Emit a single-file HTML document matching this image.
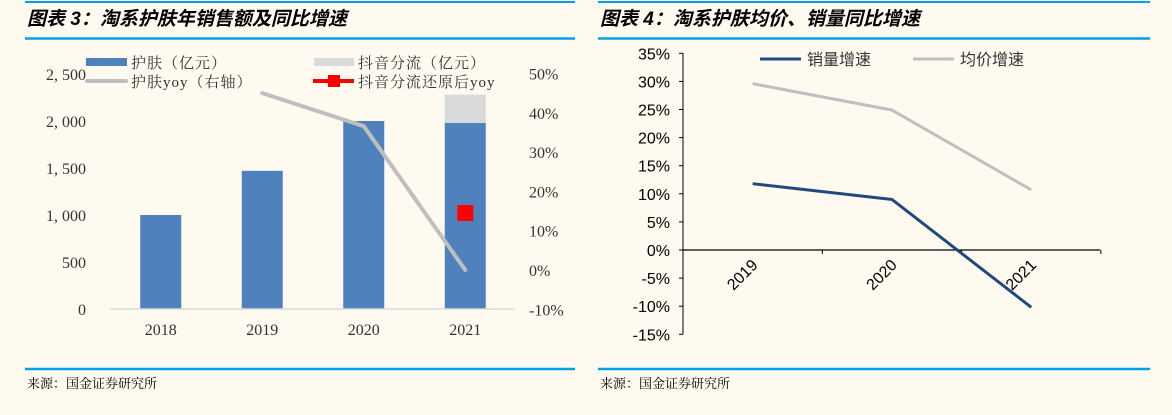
<!DOCTYPE html>
<html><head><meta charset="utf-8">
<style>
body{margin:0;width:1172px;height:415px;background:#fffaf0;overflow:hidden;font-family:"Liberation Serif","Noto Serif CJK SC",serif;}
svg{position:absolute;left:0;top:0}
</style></head>
<body>
<svg id="svg" width="1172" height="415">
 <g>
  <line x1="25" y1="2" x2="575" y2="2" stroke="#00a0e9" stroke-width="2"/>
  <line x1="25" y1="38.5" x2="575" y2="38.5" stroke="#00a0e9" stroke-width="2.5"/>
  <line x1="25" y1="369" x2="575" y2="369" stroke="#00a0e9" stroke-width="2.5"/>
  <text x="27" y="25" font-size="19" font-weight="bold" font-style="italic" font-family="Liberation Sans,Noto Sans CJK SC,sans-serif">图表 3：淘系护肤年销售额及同比增速</text>
  <text x="27" y="388" font-size="13">来源：国金证券研究所</text>
 </g>
 <g>
  <line x1="598" y1="2" x2="1150" y2="2" stroke="#00a0e9" stroke-width="2"/>
  <line x1="598" y1="38.5" x2="1150" y2="38.5" stroke="#00a0e9" stroke-width="2.5"/>
  <line x1="598" y1="369" x2="1150" y2="369" stroke="#00a0e9" stroke-width="2.5"/>
  <text x="600" y="25" font-size="19" font-weight="bold" font-style="italic" font-family="Liberation Sans,Noto Sans CJK SC,sans-serif">图表 4：淘系护肤均价、销量同比增速</text>
  <text x="600" y="388" font-size="13">来源：国金证券研究所</text>
 </g>
 <g id="left"></g>
 <g id="right"></g>
</svg>
<script>
// Left chart data
const leftCategories=["2018","2019","2020","2021"];
const skincareSales=[1000,1470,2000,1980];
const douyinDiversion=[0,0,0,300];
const skincareYoy=[null,45,36.6,0];
const adjustedYoy=[null,null,null,14.5];
const leftTicks=[0,500,1000,1500,2000,2500];
const leftTickLabels=["0","500","1, 000","1, 500","2, 000","2, 500"];
const rightTicks=[-10,0,10,20,30,40,50];
const rightTickLabels=["-10%","0%","10%","20%","30%","40%","50%"];
// Right chart data
const rightCategories=["2019","2020","2021"];
const volumeGrowth=[11.8,9.0,-10.2];
const priceGrowth=[29.6,24.9,10.7];
const pctTicks=[-15,-10,-5,0,5,10,15,20,25,30,35];
const pctTickLabels=["-15%","-10%","-5%","0%","5%","10%","15%","20%","25%","30%","35%"];

const NS="http://www.w3.org/2000/svg";
function mk(parent,tag,attrs,text){const e=document.createElementNS(NS,tag);for(const k in attrs)e.setAttribute(k,attrs[k]);if(text!==undefined)e.textContent=text;parent.appendChild(e);return e;}

// ---- left
const L=document.getElementById('left');
const ly=v=>309-(v/2500)*235;
const ry=v=>270-(v/10)*39.3;
const bandL=101.5, x0L=110;
const lx=i=>x0L+bandL*(i+0.5);
leftTicks.forEach((t,i)=>{const e=mk(L,'text',{x:86,y:ly(t)+6,'text-anchor':'end','font-size':16,fill:'#333'},leftTickLabels[i]);

});
rightTicks.forEach((t,i)=>{const e=mk(L,'text',{x:529,y:ry(t)+6,'font-size':16,fill:'#333'},rightTickLabels[i]);

});
leftCategories.forEach((c,i)=>{
 const b=mk(L,'rect',{x:lx(i)-20.5,y:ly(skincareSales[i]),width:41,height:309-ly(skincareSales[i]),fill:'#4f81bd'});
 
 
 if(douyinDiversion[i]>0){const g=mk(L,'rect',{x:lx(i)-20.5,y:ly(skincareSales[i]+douyinDiversion[i]),width:41,height:ly(skincareSales[i])-ly(skincareSales[i]+douyinDiversion[i]),fill:'#d9d9d9'});
 
 }
 const t=mk(L,'text',{x:lx(i),y:335,'text-anchor':'middle','font-size':16,fill:'#333'},c);
 
 
});
const ax=mk(L,'line',{x1:110,y1:309,x2:515,y2:309,stroke:'#d9d9d9','stroke-width':1.5});


let pts=[];skincareYoy.forEach((v,i)=>{if(v!==null)pts.push(lx(i)+','+ry(v));});
const yl=mk(L,'polyline',{points:pts.join(' '),fill:'none',stroke:'#bfbfbf','stroke-width':4,'stroke-linecap':'round'});


adjustedYoy.forEach((v,i)=>{if(v!==null){const r=mk(L,'rect',{x:lx(i)-8,y:ry(v)-8,width:16,height:16,fill:'#ff0000'});

}});
// left legend
const lg=mk(L,'g',{});


mk(lg,'rect',{x:86,y:58,width:41,height:8,fill:'#4f81bd'});
mk(lg,'text',{x:131,y:68,'font-size':15,'letter-spacing':1,fill:'#333'},'护肤（亿元）');
mk(lg,'rect',{x:314,y:58,width:40,height:8,fill:'#d9d9d9'});
mk(lg,'text',{x:358,y:68,'font-size':15,'letter-spacing':1,fill:'#333'},'抖音分流（亿元）');
mk(lg,'line',{x1:87,y1:81,x2:126,y2:81,stroke:'#bfbfbf','stroke-width':4,'stroke-linecap':'round'});
mk(lg,'text',{x:131,y:87,'font-size':15,'letter-spacing':1,fill:'#333'},'护肤yoy（右轴）');
mk(lg,'line',{x1:313,y1:81,x2:354,y2:81,stroke:'#ff0000','stroke-width':4});
mk(lg,'rect',{x:328,y:75,width:12,height:12,fill:'#ff0000'});
mk(lg,'text',{x:358,y:87,'font-size':15,'letter-spacing':1,fill:'#333'},'抖音分流还原后yoy');

// ---- right
const R=document.getElementById('right');
const py=v=>250-(v/50)*281;
const bandR=139.3, x0R=683;
const px=i=>x0R+bandR*(i+0.5);
const fam='Liberation Sans,Noto Sans CJK SC,sans-serif';
mk(R,'line',{x1:683,y1:py(35),x2:683,y2:py(-15),stroke:'#000','stroke-width':1});
pctTicks.forEach((t,i)=>{mk(R,'line',{x1:679,y1:py(t),x2:683,y2:py(t),stroke:'#000'});
const e=mk(R,'text',{x:670,y:py(t)+6,'text-anchor':'end','font-size':16,'font-family':fam,fill:'#000'},pctTickLabels[i]);

});
const xa=mk(R,'line',{x1:683,y1:py(0),x2:1100,y2:py(0),stroke:'#000','stroke-width':1.3});


for(let k=0;k<=rightCategories.length;k++)mk(R,'line',{x1:x0R+bandR*k,y1:py(0),x2:x0R+bandR*k,y2:py(0)+4,stroke:'#000'});
function series(vals,color,name){const p=vals.map((v,i)=>px(i)+','+py(v)).join(' ');
const e=mk(R,'polyline',{points:p,fill:'none',stroke:color,'stroke-width':3});

}
series(priceGrowth,'#bfbfbf','line-price-growth');
series(volumeGrowth,'#1f497d','line-volume-growth');
rightCategories.forEach((c,i)=>{const x=px(i)+6,y=py(0)+16;
const t=mk(R,'text',{x:x,y:y,'text-anchor':'end','font-size':16,'font-family':fam,fill:'#000',transform:`rotate(-45 ${x} ${y})`},c);

});
const rg=mk(R,'g',{});


mk(rg,'line',{x1:760,y1:59,x2:801,y2:59,stroke:'#1f497d','stroke-width':3});
mk(rg,'text',{x:807,y:65,'font-size':16,'font-family':fam,fill:'#333'},'销量增速');
mk(rg,'line',{x1:913,y1:59,x2:954,y2:59,stroke:'#bfbfbf','stroke-width':3});
mk(rg,'text',{x:960,y:65,'font-size':16,'font-family':fam,fill:'#333'},'均价增速');
</script>
</body></html>
